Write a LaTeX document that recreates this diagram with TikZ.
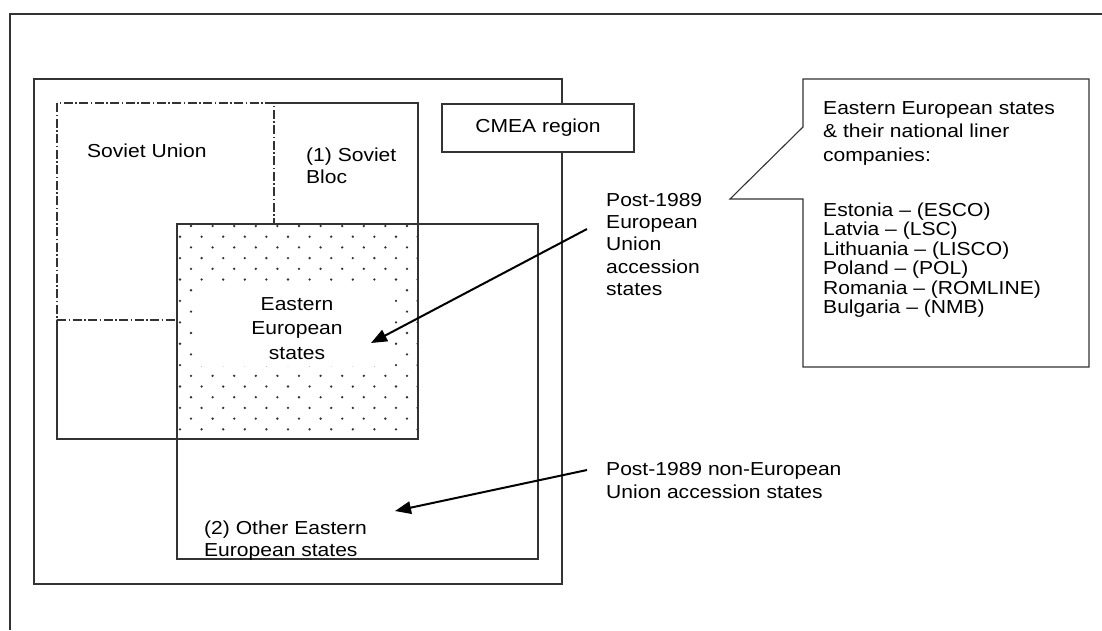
\documentclass[tikz,border=0pt]{standalone}
\usepackage{fontspec}
\setmainfont{Liberation Sans}
\usetikzlibrary{arrows.meta}
% a text block: line pitch, column alignment, lines; set a little wide
\newcommand\blk[3]{\scalebox{1.12}[1]{\fontsize{18.8}{#1}\selectfont
  \begin{tabular}{@{}#2@{}}#3\end{tabular}}}
\begin{document}
\begin{tikzpicture}[x=1pt,y=-1pt,
  frame/.style={draw=black!80, line width=1.1pt},
  dashdot/.style={draw=black!80, line width=1.1pt,
    dash pattern=on 9pt off 2.5pt on 1.5pt off 2.5pt},
  lbl/.style={inner sep=0pt, anchor=north west},
  lblc/.style={inner sep=0pt, anchor=north},
  pointer/.style={draw=black, line width=2pt,
    -{Triangle[length=16pt,width=12.5pt]}},
  dotfill/.style={fill=black!80}
]
\useasboundingbox (0,0) rectangle (1102,630);
\fill[white] (0,0) rectangle (1102,630);

% open outer frame running off the page
\draw[frame] (10,630) -- (10,14) -- (1102,14);

% CMEA region
\draw[frame] (34,79) rectangle (562,584);

% (1) Soviet Bloc and (2) Other Eastern European states
\draw[frame] (57,103) rectangle (418,439);
\draw[frame] (177,224) rectangle (538,559);

% Soviet Union: dash-dot outline over the bloc edges
\draw[white, line width=2.6pt] (57,320) -- (57,103) -- (274,103);
\draw[dashdot] (57,103) rectangle (274,320);

% overlap region: post-1989 EU accession states, dotted
\fill[white] (177,224) rectangle (418,439);
\begin{scope}
  \clip (177,224) rectangle (418,439);
  \foreach \r in {0,...,20} {
    \pgfmathsetmacro\yy{226+10.7*\r}
    \pgfmathsetmacro\xo{mod(\r,2)==0 ? 191 : 180}
    \foreach \i in {-1,...,11}
      \fill[dotfill] (\xo+21.6*\i,\yy) circle[radius=1.3pt];
  }
\end{scope}
\fill[white] (200,281) rectangle (395,366);
\draw[frame] (177,224) rectangle (418,439);

% labels inside the regions
\node[lbl] (sovunion) at (87,141.6) {\blk{22}{l}{Soviet Union}};
\node[lbl] (sovbloc) at (306,145.6) {\blk{22}{l}{(1) Soviet\\Bloc}};
\node[lblc] (eestates) at (297,292.9)
  {\blk{24.5}{c}{Eastern\\European\\states}};
\node[lbl] (othereast) at (204,518.3)
  {\blk{22.5}{l}{(2) Other Eastern\\European states}};

% explanatory labels and their arrows
\node[lbl] (euacc) at (606,190.4)
  {\blk{22.3}{l}{Post-1989\\European\\Union\\accession\\states}};
\node[lbl] (noneu) at (606,458.5)
  {\blk{23.5}{l}{Post-1989 non-European\\Union accession states}};
\coordinate (euaccfrom) at (587,229);
\coordinate (euaccto) at (371,343);
\coordinate (noneufrom) at (587,470);
\coordinate (noneuto) at (395,511);
\draw[pointer] (euaccfrom) -- (euaccto);
\draw[pointer] (noneufrom) -- (noneuto);

% CMEA region tag
\node[frame, fill=white, minimum width=192pt, minimum height=48pt,
  inner sep=0pt] (cmea) at (538,128) {\blk{23}{c}{CMEA region}};

% callout with national liner companies
\filldraw[frame, fill=white] (803,79) -- (1089,79) -- (1089,367)
  -- (803,367) -- (803,199) -- (730,199) -- (803,127) -- cycle;
\node[lbl] (callhead) at (823,97.6)
  {\blk{23.5}{l}{Eastern European states\\\& their national liner\\companies:}};
\node[lbl] (calllist) at (823,202.4)
  {\blk{19.4}{l}{Estonia -- (ESCO)\\Latvia -- (LSC)\\Lithuania -- (LISCO)\\
   Poland -- (POL)\\Romania -- (ROMLINE)\\Bulgaria -- (NMB)}};
\end{tikzpicture}
\end{document}
